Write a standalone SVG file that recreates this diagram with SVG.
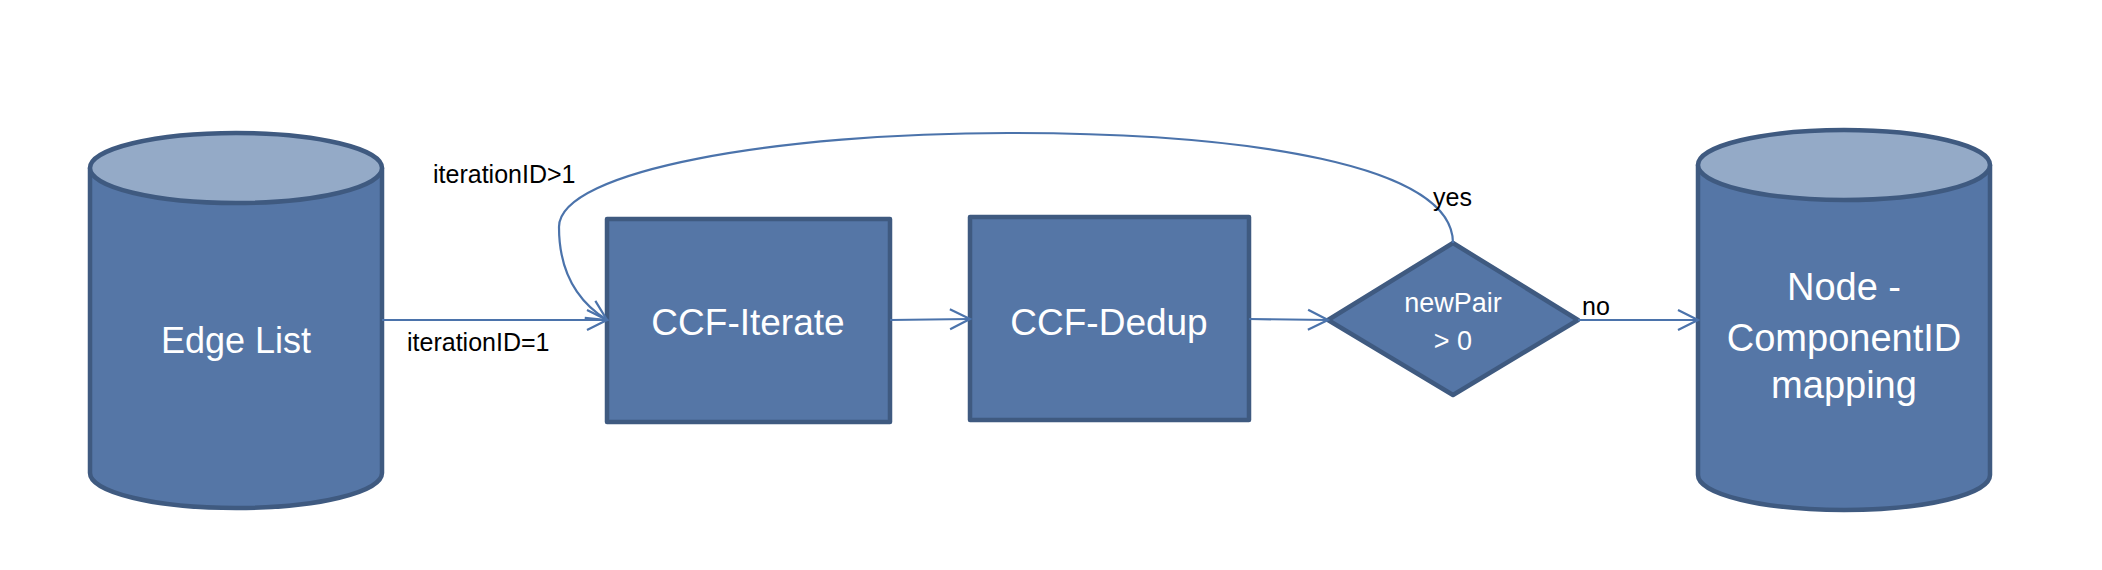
<svg xmlns="http://www.w3.org/2000/svg" width="2102" height="570" viewBox="0 0 2102 570">
<defs>
<style>
.node{fill:#5576a6;stroke:#3f5a80;stroke-width:4.5;stroke-linejoin:round}
.top{fill:#94aac7;stroke:#3f5a80;stroke-width:4.5}
.conn{fill:none;stroke:#4b73ab;stroke-width:2.2}
.nt{font-family:"Liberation Sans",Arial,sans-serif;fill:#ffffff;text-anchor:middle}
.lb{font-family:"Liberation Sans",Arial,sans-serif;fill:#000000;font-size:25px}
</style>
<marker id="arr" viewBox="0 0 24 24" refX="22" refY="12" markerWidth="24" markerHeight="24" markerUnits="userSpaceOnUse" orient="auto">
<path d="M2,2 L22,12 L2,22" fill="none" stroke="#4b73ab" stroke-width="2.2"/>
</marker>
</defs>
<rect width="2102" height="570" fill="#ffffff"/>
<g id="edge-list">
<path class="node" d="M90,168 L90,473 A146,35 0 0 0 382,473 L382,168 Z"/>
<ellipse class="top" cx="236" cy="168" rx="146" ry="35"/>
<text class="nt" x="236" y="353" font-size="36">Edge List</text>
</g>
<g id="ccf-iterate">
<rect class="node" x="607" y="219" width="283" height="203"/>
<text class="nt" x="748" y="335" font-size="37">CCF-Iterate</text>
</g>
<g id="ccf-dedup">
<rect class="node" x="970" y="217" width="279" height="203"/>
<text class="nt" x="1109" y="335" font-size="37">CCF-Dedup</text>
</g>
<g id="decision">
<polygon class="node" points="1328,320 1453,243 1578,320 1453,395"/>
<text class="nt" x="1453" y="312" font-size="27">newPair</text>
<text class="nt" x="1453" y="350" font-size="27">&gt; 0</text>
</g>
<g id="node-componentid">
<path class="node" d="M1698,165 L1698,475 A146,35 0 0 0 1990,475 L1990,165 Z"/>
<ellipse class="top" cx="1844" cy="165" rx="146" ry="35"/>
<text class="nt" x="1844" y="300" font-size="38">Node -</text>
<text class="nt" x="1844" y="351" font-size="38">ComponentID</text>
<text class="nt" x="1844" y="398" font-size="38">mapping</text>
</g>
<g id="connectors">
<path class="conn" d="M382,320 L607,320" marker-end="url(#arr)"/>
<path class="conn" d="M890,320 L970,319" marker-end="url(#arr)"/>
<path class="conn" d="M1249,319 L1328,320" marker-end="url(#arr)"/>
<path class="conn" d="M1578,320 L1698,320" marker-end="url(#arr)"/>
<path class="conn" d="M1453,243 C1453,165 1250,133 1008,133 C780,133 559,170 559,227 C559,270 575,300 607,320" marker-end="url(#arr)"/>
<text class="lb" x="407" y="351">iterationID=1</text>
<text class="lb" x="433" y="183">iterationID&gt;1</text>
<text class="lb" x="1433" y="206">yes</text>
<text class="lb" x="1582" y="315">no</text>
</g>
</svg>
